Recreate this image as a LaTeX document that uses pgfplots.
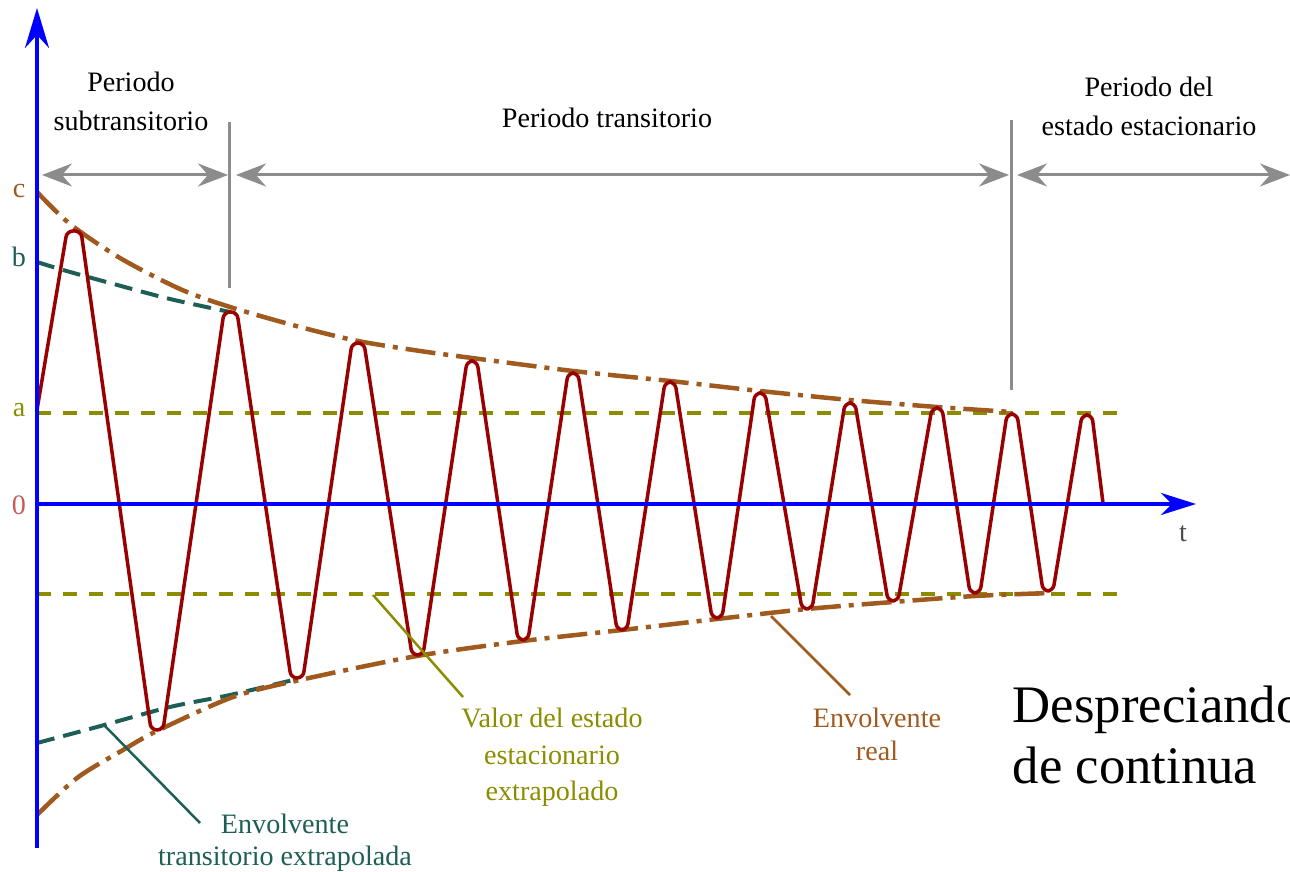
\documentclass[border=0pt]{standalone}
\usepackage{fontspec}
\setmainfont{Liberation Serif}
\usepackage{pgfplots}
\pgfplotsset{compat=1.18}
\usetikzlibrary{arrows.meta}

\definecolor{wave}{RGB}{153,0,0}
\definecolor{envreal}{RGB}{160,90,30}
\definecolor{envtrans}{RGB}{30,95,85}
\definecolor{steady}{RGB}{140,140,0}
\definecolor{zerolbl}{RGB}{200,90,90}
\definecolor{period}{RGB}{140,140,140}
\definecolor{axisblue}{RGB}{0,0,255}

\begin{document}
\begin{tikzpicture}
% the page is exactly the drawing area; anything beyond it is cut off
\path[use as bounding box, clip] (0,0) rectangle (129mm,87.2mm);
\begin{axis}[
  at={(0,0)}, anchor=south west,
  width=129mm, height=87.2mm, scale only axis,
  xmin=0, xmax=1290, ymin=0, ymax=872, y dir=reverse,
  hide axis, clip=false,
]
% steady-state value, extrapolated (upper and lower)
\addplot[steady, line width=0.45mm, dash pattern=on 1.4mm off 1.2mm]
  coordinates {(37,413) (1118,413)};
\addplot[steady, line width=0.45mm, dash pattern=on 1.4mm off 1.2mm]
  coordinates {(37,594) (1118,594)};

% extrapolated transient envelope
\addplot[envtrans, line width=0.4mm, smooth, dash pattern=on 1.8mm off 0.9mm]
  coordinates {(37,262) (63,270) (110,283) (170,299) (230,312)};
\addplot[envtrans, line width=0.4mm, smooth, dash pattern=on 1.8mm off 0.9mm]
  coordinates {(37,743) (97,727) (170,707) (230,695) (297,679)};

% real envelope
\addplot[envreal, line width=0.45mm, smooth,
  dash pattern=on 3mm off 0.8mm on 0.5mm off 0.8mm]
  coordinates {(37,192) (70,224) (120,258) (180,289) (230,307) (300,327)
               (358,341) (420,351) (472,358) (573,371) (670,381) (760,391)
               (850,400) (937,407) (1012,412)};
\addplot[envreal, line width=0.45mm, smooth,
  dash pattern=on 3mm off 0.8mm on 0.5mm off 0.8mm]
  coordinates {(37,815) (77,778) (123,750) (157,731) (233,697) (300,680)
               (417,656) (523,641) (622,630) (717,619) (807,609) (893,602)
               (975,596) (1050,593)};

% short-circuit current
\addplot[wave, line width=0.35mm, line join=round, sharp plot, rounded corners=0.6mm]
  coordinates {(37,410) (67,231) (81,231) (151,730) (163,730) (224,312)
               (237,312) (291,678) (303,678) (352,343) (364,343) (412,655)
               (423,655) (467,361) (477,361) (518,640) (528,640) (568,373)
               (578,373) (617,630) (627,630) (665,382) (675,382) (712,618)
               (722,618) (755,393) (765,393) (802,609) (812,609) (845,403)
               (855,403) (888,601) (898,601) (932,408) (942,408) (970,593)
               (980,593) (1007,414) (1017,414) (1043,591) (1053,591) (1082,415)
               (1092,415) (1103,503)};

% axes
\draw[axisblue, line width=0.35mm, -{Stealth[length=4mm, width=2.4mm, inset=1.3mm]}]
  (37,848) -- (37,8);
\draw[axisblue, line width=0.35mm, -{Stealth[length=3.5mm, width=2.2mm, inset=1.1mm]}]
  (37,504) -- (1196,504);

% period boundaries
\draw[period, line width=0.3mm] (229,122) -- (229,288);
\draw[period, line width=0.3mm] (1011,120) -- (1011,390);
\tikzset{parr/.style={period, line width=0.3mm,
  {Stealth[length=3mm, width=2.3mm, inset=1mm]}-{Stealth[length=3mm, width=2.3mm, inset=1mm]}}}
\draw[parr] (42,175) -- (228,175);
\draw[parr] (236,175) -- (1009,175);
\draw[parr] (1017,175) -- (1290,175);

% leader lines
\draw[steady, line width=0.25mm] (373,595) -- (463,697);
\draw[envreal, line width=0.25mm] (771,616) -- (850,695);
\draw[envtrans, line width=0.25mm] (105,726) -- (200,823);

% level labels
\node[envreal, anchor=base, font=\fontsize{8}{10}\selectfont] at (19,198) {c};
\node[envtrans, anchor=base, font=\fontsize{8}{10}\selectfont] at (19,267) {b};
\node[steady, anchor=base, font=\fontsize{8}{10}\selectfont] at (19,417) {a};
\node[zerolbl, anchor=base, font=\fontsize{8}{10}\selectfont] at (19,515) {0};
\node[black!70, anchor=base, font=\fontsize{8}{10}\selectfont] at (1183,542) {t};

% period names
\tikzset{lbl/.style={anchor=base, inner sep=0pt, font=\fontsize{8}{10}\selectfont}}
\node[lbl] at (131,92) {Periodo};
\node[lbl] at (131,131) {subtransitorio};
\node[lbl] at (607,128) {Periodo transitorio};
\node[lbl] at (1149,97) {Periodo del};
\node[lbl] at (1149,136) {estado estacionario};

% curve names
\node[lbl, steady] at (552,727) {Valor del estado};
\node[lbl, steady] at (552,764) {estacionario};
\node[lbl, steady] at (552,800) {extrapolado};
\node[lbl, envreal] at (877,727) {Envolvente};
\node[lbl, envreal] at (877,760) {real};
\node[lbl, envtrans] at (285,833) {Envolvente};
\node[lbl, envtrans] at (285,865) {transitorio extrapolada};

% note
\node[anchor=base west, inner sep=0pt, font=\fontsize{15}{17}\selectfont] at (1012,722) {Despreciando};
\node[anchor=base west, inner sep=0pt, font=\fontsize{15}{17}\selectfont] at (1012,783) {de continua};
\end{axis}
\end{tikzpicture}
\end{document}
